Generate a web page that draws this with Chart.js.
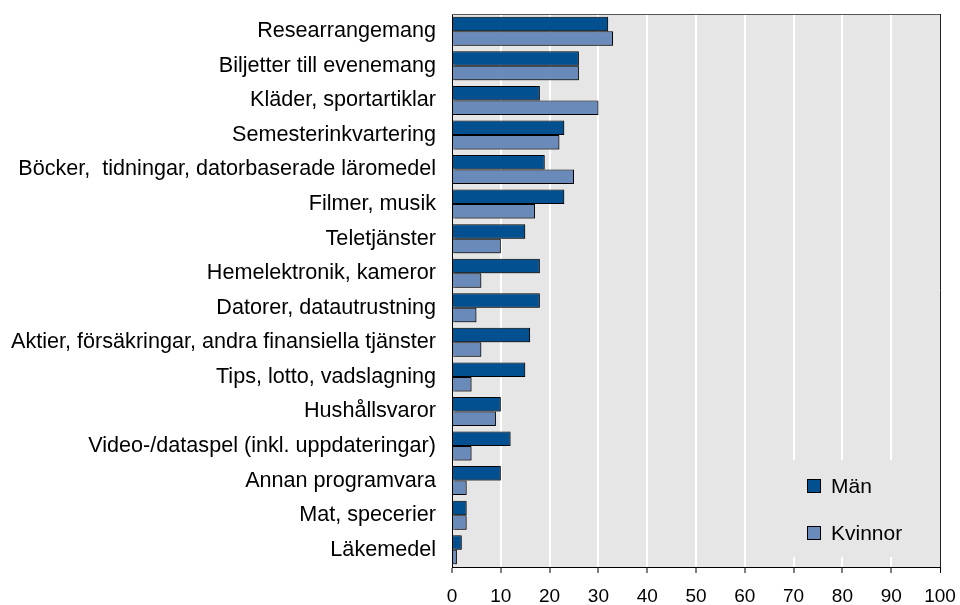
<!DOCTYPE html>
<html>
<head>
<meta charset="utf-8">
<script src="https://cdn.jsdelivr.net/npm/chart.js@4/dist/chart.umd.min.js"></script>
<style>
  html, body { margin: 0; padding: 0; background: #fff; }
  #wrap { width: 960px; height: 605px; position: relative; }
</style>
</head>
<body>
<div id="wrap"><canvas id="chartKop"></canvas></div>
<script>
// --- Data ---
const kategorier = [
    'Researrangemang',
    'Biljetter till evenemang',
    'Kläder, sportartiklar',
    'Semesterinkvartering',
    'Böcker,  tidningar, datorbaserade läromedel',
    'Filmer, musik',
    'Teletjänster',
    'Hemelektronik, kameror',
    'Datorer, datautrustning',
    'Aktier, försäkringar, andra finansiella tjänster',
    'Tips, lotto, vadslagning',
    'Hushållsvaror',
    'Video-/dataspel (inkl. uppdateringar)',
    'Annan programvara',
    'Mat, specerier',
    'Läkemedel'
];
const man     = [32, 26, 18, 23, 19, 23, 15, 18, 18, 16, 15, 10, 12, 10, 3, 2];
const kvinnor = [33, 26, 30, 22, 25, 17, 10, 6, 5, 6, 4, 9, 4, 3, 3, 1];
const xTicks  = [0, 10, 20, 30, 40, 50, 60, 70, 80, 90, 100];

const FONT = "'Liberation Sans', Arial, sans-serif";
const FARG_MAN = '#02508f';
const FARG_KVINNOR = '#6a8ab9';
const BAKGRUND = '#e6e6e6';

// bakgrund, ram och legend i diagramytan
const ytaPlugin = {
    id: 'yta',
    beforeDraw(chart) {
        const { ctx, chartArea: a } = chart;
        ctx.save();
        ctx.fillStyle = BAKGRUND;
        ctx.fillRect(a.left, a.top, a.right - a.left, a.bottom - a.top);
        ctx.restore();
    },
    beforeDatasetsDraw(chart) {
        const { ctx, chartArea: a } = chart;
        ctx.save();
        // legendrutan döljer stödlinjerna
        ctx.fillStyle = BAKGRUND;
        ctx.fillRect(775, 460, a.right - 775 - 1, 97);
        // ram upptill
        ctx.strokeStyle = '#555';
        ctx.lineWidth = 1;
        ctx.beginPath();
        ctx.moveTo(a.left, a.top + 0.5);
        ctx.lineTo(a.right, a.top + 0.5);
        ctx.stroke();
        ctx.restore();
        ctx.save();
        ctx.shadowColor = 'rgba(0,0,0,0.35)';
        ctx.shadowOffsetX = 2;
        ctx.shadowOffsetY = 1;
        ctx.shadowBlur = 0;
    },
    afterDatasetsDraw(chart) {
        const { ctx } = chart;
        ctx.restore();
        const poster = [
            { text: 'Män', farg: FARG_MAN, y: 486 },
            { text: 'Kvinnor', farg: FARG_KVINNOR, y: 533 }
        ];
        ctx.save();
        ctx.font = '21px ' + FONT;
        ctx.textBaseline = 'middle';
        poster.forEach(p => {
            ctx.fillStyle = p.farg;
            ctx.fillRect(807.5, p.y - 6.5, 13, 13);
            ctx.strokeStyle = '#000';
            ctx.lineWidth = 1;
            ctx.strokeRect(807.5, p.y - 6.5, 13, 13);
            ctx.fillStyle = '#000';
            ctx.fillText(p.text, 831, p.y + 1);
        });
        ctx.restore();
    }
};

const ctx = document.getElementById('chartKop').getContext('2d');

new Chart(ctx, {
    type: 'bar',
    data: {
        labels: kategorier,
        datasets: [{
            label: 'Män',
            data: man,
            backgroundColor: FARG_MAN,
            borderColor: '#000',
            borderWidth: 1
        }, {
            label: 'Kvinnor',
            data: kvinnor,
            backgroundColor: FARG_KVINNOR,
            borderColor: '#000',
            borderWidth: 1
        }]
    },
    options: {
        indexAxis: 'y',
        responsive: true,
        maintainAspectRatio: false,
        animation: false,
        datasets: { bar: { categoryPercentage: 0.84, barPercentage: 1 } },
        plugins: {
            legend: { display: false },
            tooltip: { enabled: false }
        },
        layout: { padding: { top: 14, right: 20, bottom: 0, left: 0 } },
        scales: {
            x: {
                min: 0,
                max: 100,
                afterBuildTicks: s => { s.ticks = xTicks.map(v => ({ value: v })); },
                afterFit: s => {
                    s.height = 38;
                    s.paddingLeft = 0;
                    s.paddingRight = 0;
                },
                border: { display: true, color: '#000', width: 1 },
                grid: {
                    color: c => (c.tick && c.tick.value === 0) ? 'rgba(0,0,0,0)' : (c.tick && c.tick.value === 100 ? '#222' : '#fff'),
                    lineWidth: c => (c.tick && c.tick.value === 100) ? 1 : 2,
                    tickColor: '#000',
                    tickLength: 6,
                    tickWidth: 1
                },
                ticks: {
                    color: '#000',
                    font: { family: FONT, size: 19 },
                    padding: 12,
                    maxRotation: 0,
                    autoSkip: false
                }
            },
            y: {
                afterFit: s => {
                    s.width = 452;
                    s.paddingTop = 0;
                    s.paddingBottom = 0;
                },
                border: { display: true, color: '#000', width: 1 },
                grid: { display: false, drawTicks: false },
                ticks: {
                    color: '#000',
                    font: { family: FONT, size: 21.6 },
                    padding: 16,
                    autoSkip: false
                }
            }
        }
    },
    plugins: [ytaPlugin]
});
</script>
</body>
</html>
